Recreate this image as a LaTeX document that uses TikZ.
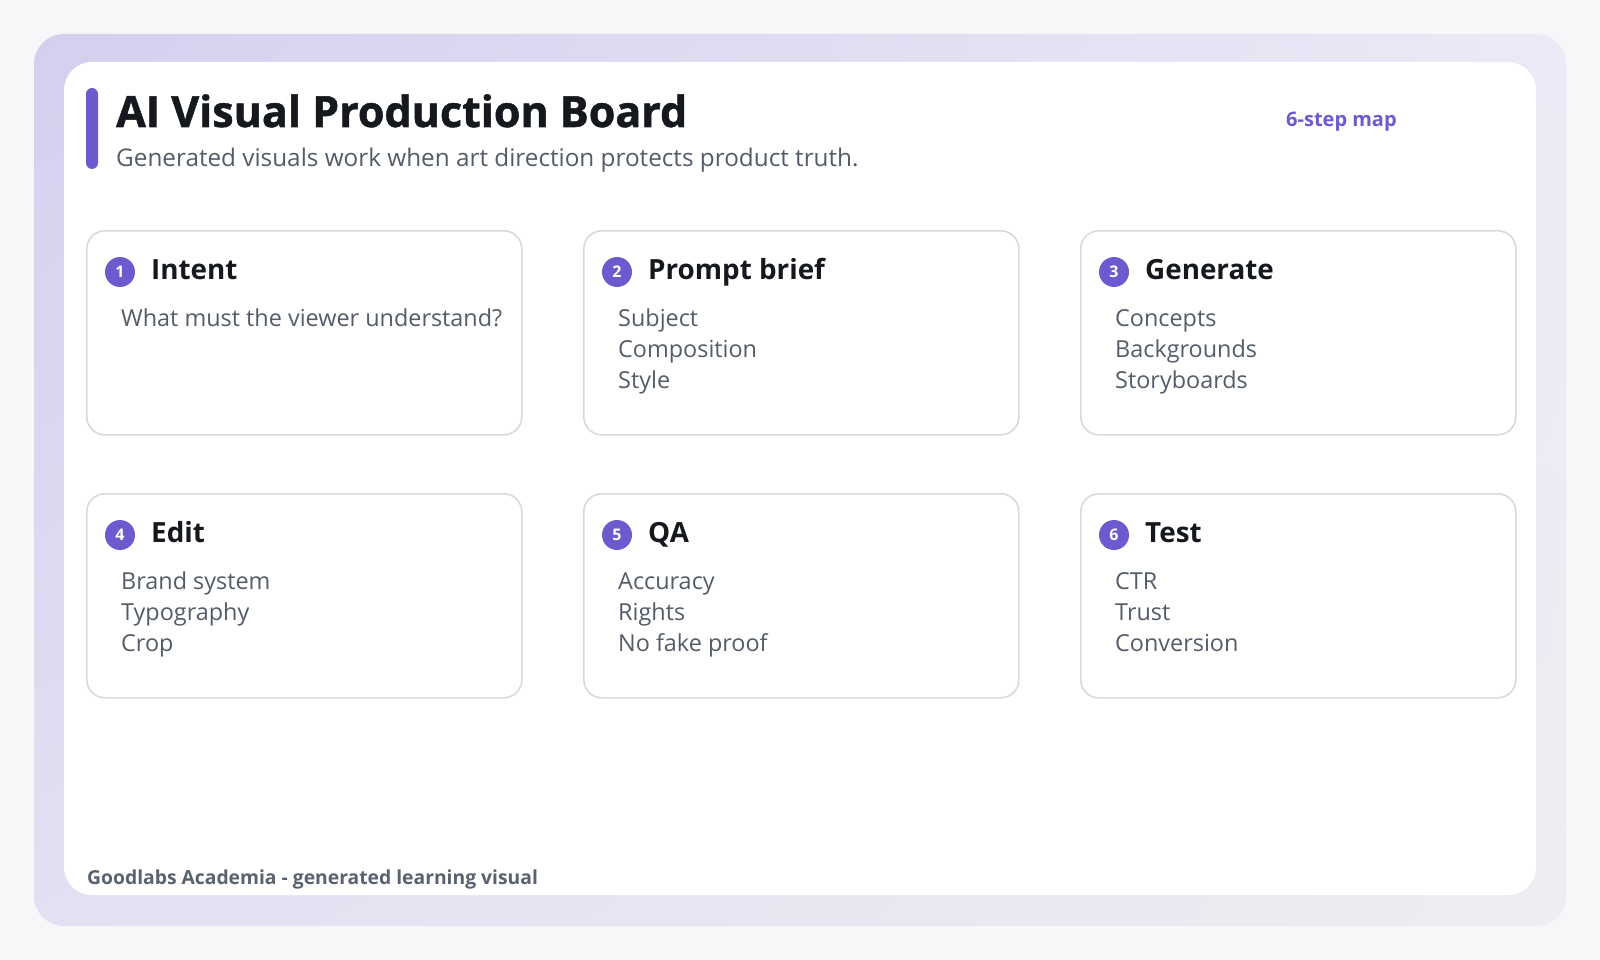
\documentclass[tikz,border=0pt]{standalone}
\usepackage{fontspec}
\setmainfont{Open Sans}
\newfontfamily\heavyfont[BoldFeatures={FakeBold=1.2}]{Open Sans}
\usetikzlibrary{positioning,shadings}

\definecolor{pagebg}{HTML}{F6F7F9}
\definecolor{glowlav}{HTML}{D5CFEE}
\definecolor{glowtop}{HTML}{EBEAF6}
\definecolor{glowmid}{HTML}{E2E0F2}
\definecolor{glowgray}{HTML}{ECEEF1}
\definecolor{cardline}{HTML}{D8DADF}
\definecolor{accent}{HTML}{6C5BCF}
\definecolor{ink}{HTML}{15181D}
\definecolor{bodytext}{HTML}{535C68}
\definecolor{foottext}{HTML}{59626E}

\tikzset{
    stepcard/.style={draw=cardline, line width=1.6pt, fill=white, rounded corners=18pt,
        minimum width=435pt, minimum height=204pt, anchor=north west, inner sep=0pt},
    stepbadge/.style={circle, fill=accent, text=white, minimum size=30pt, inner sep=0pt,
        font=\fontsize{16}{16}\selectfont\bfseries},
    steptitle/.style={anchor=base west, inner sep=0pt, text=ink,
        font=\fontsize{27.8}{27.8}\selectfont\bfseries},
    stepline/.style={anchor=base west, inner sep=0pt, text=bodytext,
        font=\fontsize{23.4}{23.4}\selectfont},
}

\begin{document}
\begin{tikzpicture}[x=1pt,y=-1pt]
    \useasboundingbox (0,0) rectangle (1600,960);
    \fill[pagebg] (0,0) rectangle (1600,960);

    % soft frame behind the board
    \shade[rounded corners=30pt, upper left=glowlav, upper right=glowtop,
        lower left=glowmid, lower right=glowgray] (34,34) rectangle (1566,926);
    \fill[white, rounded corners=28pt] (64,62) rectangle (1536,895);

    % header
    \fill[accent, rounded corners=6pt] (86,88) rectangle (98,169);
    \node[anchor=base west, inner sep=0pt, text=ink,
        font=\fontsize{43}{43}\heavyfont\bfseries] (title) at (116,127) {AI Visual Production Board};
    \node[anchor=base west, inner sep=0pt, text=bodytext,
        font=\fontsize{24.3}{24.3}\selectfont] (subtitle) at (116,167)
        {Generated visuals work when art direction protects product truth.};
    \node[anchor=base west, inner sep=0pt, text=accent,
        font=\fontsize{20}{20}\selectfont\bfseries] (stepcount) at (1286,127) {6-step map};

    % the six steps
    \foreach \n/\col/\row/\ttl/\lines in {
        1/0/0/Intent/{What must the viewer understand?},
        2/1/0/Prompt brief/{Subject,Composition,Style},
        3/2/0/Generate/{Concepts,Backgrounds,Storyboards},
        4/0/1/Edit/{Brand system,Typography,Crop},
        5/1/1/QA/{Accuracy,Rights,No fake proof},
        6/2/1/Test/{CTR,Trust,Conversion}}
    {
        \node[stepcard] (card\n) at ({86+497*\col},{230+263*\row}) {};
        \node[stepbadge] (badge\n) at ([shift={(34,42)}]card\n.north west) {\n};
        \node[steptitle] (title\n) at ([shift={(65,49)}]card\n.north west) {\ttl};
        \foreach \ln [count=\k from 0] in \lines
        {
            \node[stepline] (line\n-\k) at ([shift={(35,96+31*\k)}]card\n.north west) {\ln};
        }
    }

    % footer
    \node[anchor=base west, inner sep=0pt, text=foottext,
        font=\fontsize{19.3}{19.3}\selectfont\bfseries] (footer) at (87,884)
        {Goodlabs Academia - generated learning visual};
\end{tikzpicture}
\end{document}
